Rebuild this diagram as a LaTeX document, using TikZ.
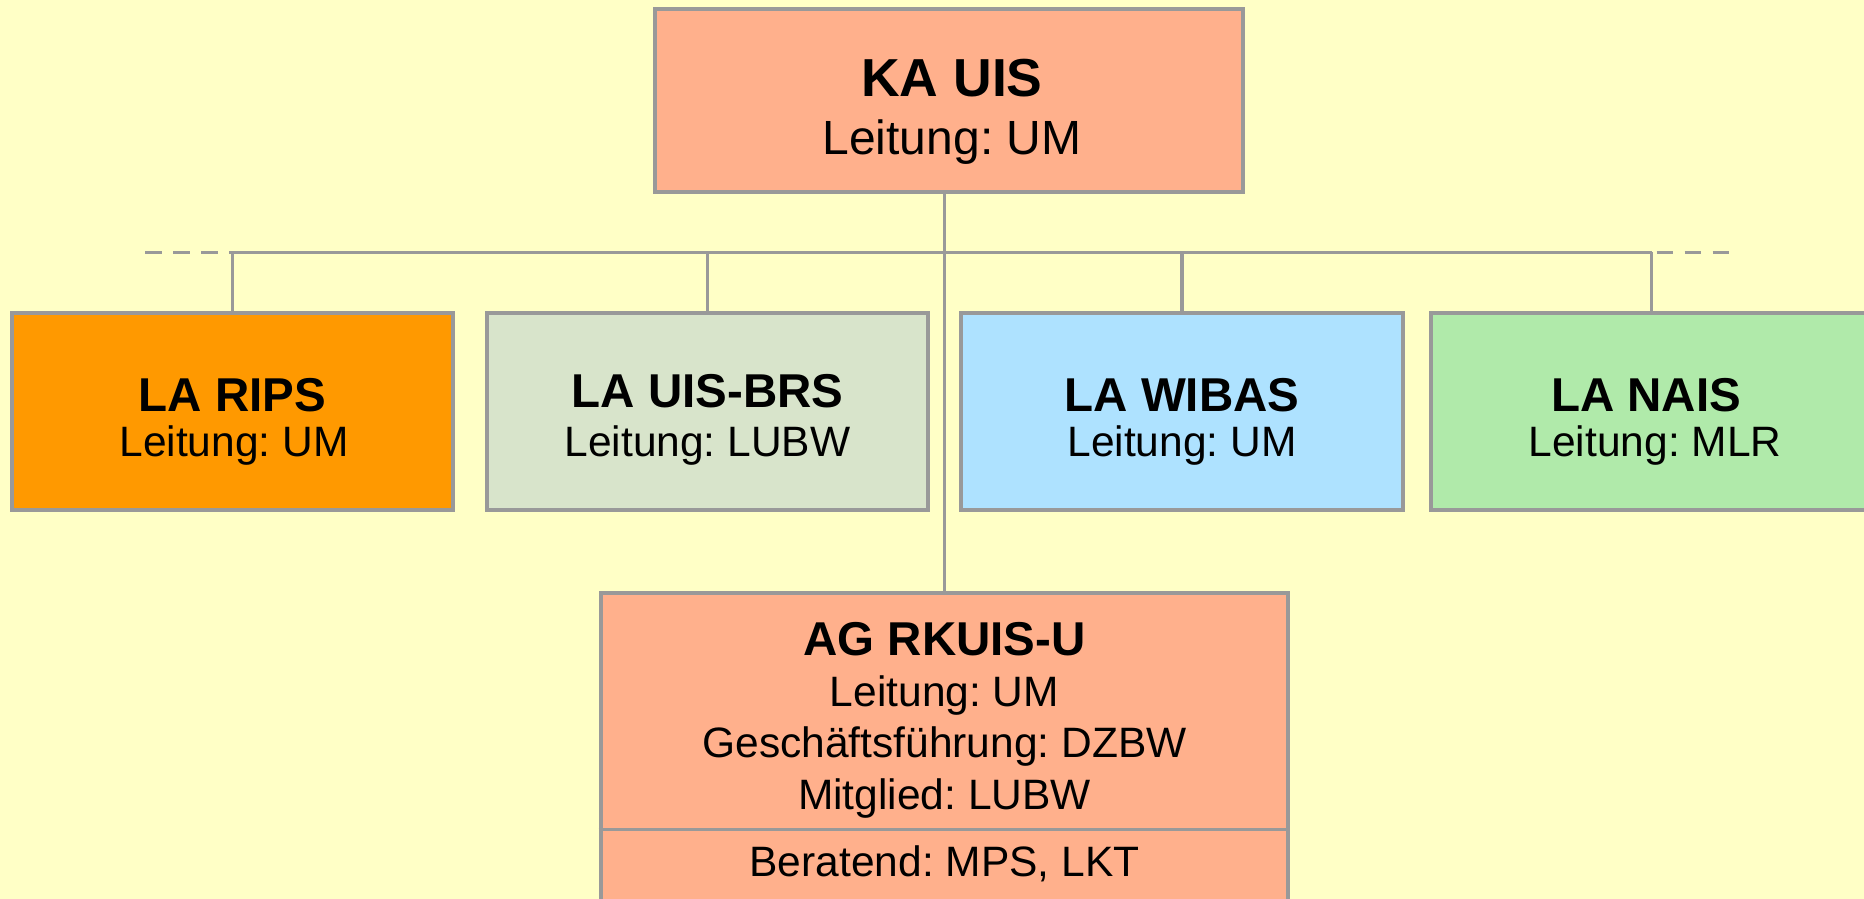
\documentclass[tikz,border=0pt]{standalone}
\usepackage{fontspec}
\setmainfont{Liberation Sans}
\frenchspacing
\definecolor{bgyellow}{HTML}{FFFFC6}
\definecolor{salmon}{HTML}{FFB08C}
\definecolor{ripsorange}{HTML}{FF9900}
\definecolor{brsgreen}{HTML}{D8E4CB}
\definecolor{wibasblue}{HTML}{AEE2FF}
\definecolor{naisgreen}{HTML}{B0EAAA}
\definecolor{linegray}{HTML}{999999}
\tikzset{
  box/.style={draw=linegray, line width=2pt, inner sep=0pt, rectangle},
  labox/.style={box, minimum width=220.8pt, minimum height=98.35pt},
  conn/.style={draw=linegray, line width=1.7pt},
  dashconn/.style={conn, dash pattern=on 8.3pt off 5.7pt},
  katitle/.style={anchor=base, inner sep=0pt, font=\fontsize{26.75pt}{30pt}\selectfont\bfseries},
  katext/.style={anchor=base, inner sep=0pt, font=\fontsize{24pt}{28pt}\selectfont},
  latitle/.style={anchor=base, inner sep=0pt, font=\fontsize{23.75pt}{28pt}\selectfont\bfseries},
  latext/.style={anchor=base, inner sep=0pt, font=\fontsize{21.25pt}{25pt}\selectfont},
}
\begin{document}
\begin{tikzpicture}[x=0.5pt, y=-0.5pt]
\useasboundingbox (0,0) rectangle (1864,899);
\clip (0,0) rectangle (1864,899);
\fill[bgyellow] (0,0) rectangle (1864,899);

% boxes
\node[box, fill=salmon, minimum width=294pt, minimum height=91.5pt] (ka) at (949,100.8) {};
\node[labox, fill=ripsorange] (rips) at (232.3,411.65) {};
\node[labox, fill=brsgreen] (brs) at (707.5,411.65) {};
\node[labox, fill=wibasblue] (wibas) at (1182,411.65) {};
\node[labox, fill=naisgreen] (nais) at (1651.7,411.65) {};
\node[box, fill=salmon, minimum width=343.8pt, minimum height=173.35pt] (ag) at (944.5,766.65) {};

% connectors
\coordinate (bus) at (0,252.3);
\coordinate (dashL) at (145,252.3);
\coordinate (dashR) at (1730,252.3);
\coordinate (divy) at (0,829.3);
\draw[conn] (rips.north |- bus) -- (nais.north |- bus);
\draw[dashconn] (dashL) -- (rips.north |- bus);
\draw[dashconn, dash phase=11.5pt] (nais.north |- bus) -- (dashR);
\draw[conn] (ka.south -| ag.north) -- (ag.north);
\draw[conn] (rips.north |- bus) -- (rips.north);
\draw[conn] (brs.north |- bus) -- (brs.north);
\draw[conn] (wibas.north |- bus) -- (wibas.north);
\draw[conn] (nais.north |- bus) -- (nais.north);
\draw[conn] (ag.west |- divy) -- (ag.east |- divy);

% texts
\node[katitle] (kaT) at (952,96.7) {KA UIS};
\node[katext] (kaL) at (952,155) {Leitung: UM};

\node[latitle] (ripsT) at (232.3,411.7) {LA RIPS};
\node[latext] (ripsL) at (234,456.7) {Leitung: UM};

\node[latitle] (brsT) at (707.5,407.5) {LA UIS-BRS};
\node[latext] (brsL) at (707.5,456.7) {Leitung: LUBW};

\node[latitle] (wibasT) at (1182,411.7) {LA WIBAS};
\node[latext] (wibasL) at (1182,456.7) {Leitung: UM};

\node[latitle] (naisT) at (1646,411.7) {LA NAIS};
\node[latext] (naisL) at (1655,456.7) {Leitung: MLR};

\node[latitle] (agT) at (944.5,655) {AG RKUIS-U};
\node[latext] (agL1) at (944.5,706.7) {Leitung: UM};
\node[latext] (agL2) at (944.5,757.3) {Geschäftsführung: DZBW};
\node[latext] (agL3) at (944.5,809.3) {Mitglied: LUBW};
\node[latext] (agL4) at (944.5,876.7) {Beratend: MPS, LKT};
\end{tikzpicture}
\end{document}
